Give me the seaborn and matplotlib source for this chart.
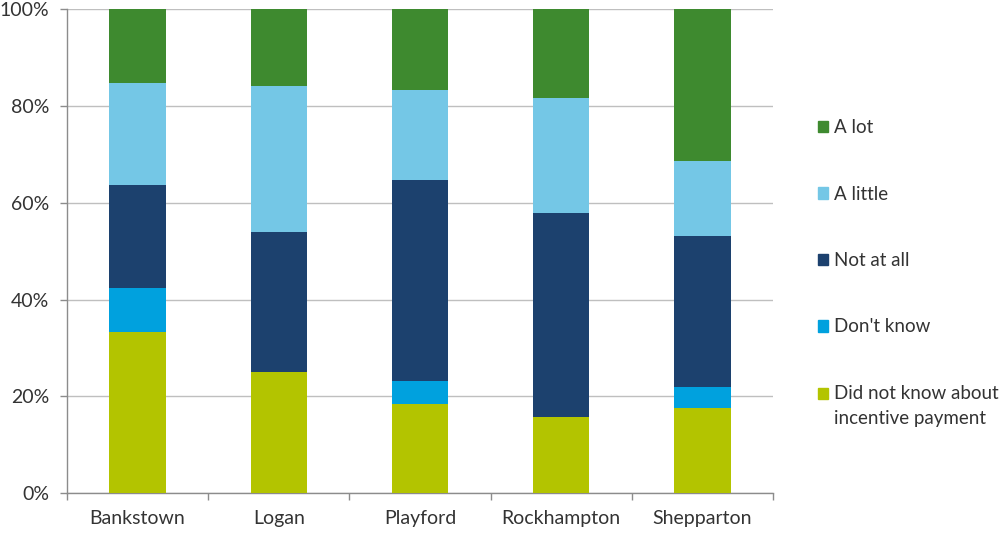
import matplotlib
matplotlib.use("Agg")
import matplotlib.pyplot as plt
import matplotlib.patches as mpatches
from matplotlib.legend_handler import HandlerPatch
import numpy as np
import pandas as pd
import seaborn as sns

# Survey responses by site (percent of respondents)
sites = ["Bankstown", "Logan", "Playford", "Rockhampton", "Shepparton"]
did_not_know = [33.3, 25.0, 18.5, 15.8, 17.6]
dont_know = [9.1, 0.0, 4.6, 0.0, 4.3]
not_at_all = [21.2, 28.9, 41.7, 42.1, 31.2]
a_little = [21.2, 30.3, 18.5, 23.7, 15.6]
a_lot = [15.2, 15.8, 16.7, 18.4, 31.3]

series_names = ["Did not know about\nincentive payment", "Don't know",
                "Not at all", "A little", "A lot"]
series_values = [did_not_know, dont_know, not_at_all, a_little, a_lot]
series_colors = ["#b3c400", "#00a1de", "#1c416e", "#74c7e6", "#3e8a2f"]
y_ticks = [0, 20, 40, 60, 80, 100]
y_tick_labels = ["0%", "20%", "40%", "60%", "80%", "100%"]

text_color = "#333333"
sns.set_theme(style="white")
plt.rcParams["font.family"] = ["Lato", "DejaVu Sans"]

fig = plt.figure(figsize=(10.04, 5.33), dpi=100)
ax = fig.add_axes([0.0667, 0.0745, 0.7033, 0.908])

# Stacked bars: draw cumulative totals from the top layer down
cumulative = np.cumsum(np.array(series_values), axis=0)
for i in range(len(series_names) - 1, -1, -1):
    df = pd.DataFrame({"site": sites, "value": cumulative[i]})
    sns.barplot(data=df, x="site", y="value", order=sites, color=series_colors[i],
                width=0.4, saturation=1, linewidth=0, ax=ax, zorder=3)

ax.set_xlim(-0.5, len(sites) - 0.5)
ax.set_ylim(0, 100)
ax.set_yticks(y_ticks)
ax.set_yticklabels(y_tick_labels)
ax.set_xlabel("")
ax.set_ylabel("")

ax.yaxis.grid(True, color="#bfbfbf", linewidth=1.0, zorder=0)
ax.xaxis.grid(False)
ax.set_axisbelow(True)
for side in ["top", "right"]:
    ax.spines[side].set_visible(False)
for side in ["left", "bottom"]:
    ax.spines[side].set_color("#8c8c8c")
    ax.spines[side].set_linewidth(1.0)

# Category boundary ticks on the x axis, outward ticks on y
ax.set_xticks(np.arange(-0.5, len(sites), 1.0), minor=True)
ax.tick_params(axis="x", which="minor", length=5, width=1, color="#8c8c8c", bottom=True)
ax.tick_params(axis="x", which="major", length=0, pad=12, labelsize=14, labelcolor=text_color)
ax.tick_params(axis="y", which="major", length=5, width=1, color="#8c8c8c", left=True,
               pad=8, labelsize=14, labelcolor=text_color)


def first_line_square(legend, orig_handle, xdescent, ydescent, width, height, fontsize):
    # Align the swatch of a two-line label with its first line
    return mpatches.Rectangle((-xdescent, -ydescent + 9.4), width, height)


handles = [mpatches.Patch(color=series_colors[i], label=series_names[i])
           for i in range(len(series_names) - 1, -1, -1)]
leg = fig.legend(handles=handles, loc="upper left",
                 bbox_to_anchor=(818 / 1004, 1 - 119 / 533),
                 frameon=False, fontsize=13.5, labelcolor=text_color,
                 handlelength=0.55, handleheight=0.55, handletextpad=0.3,
                 labelspacing=2.64, borderpad=0, borderaxespad=0,
                 handler_map={handles[-1]: HandlerPatch(patch_func=first_line_square)})
for t in leg.get_texts():
    t.set_linespacing(1.6)

fig.savefig("out.png", dpi=100)
